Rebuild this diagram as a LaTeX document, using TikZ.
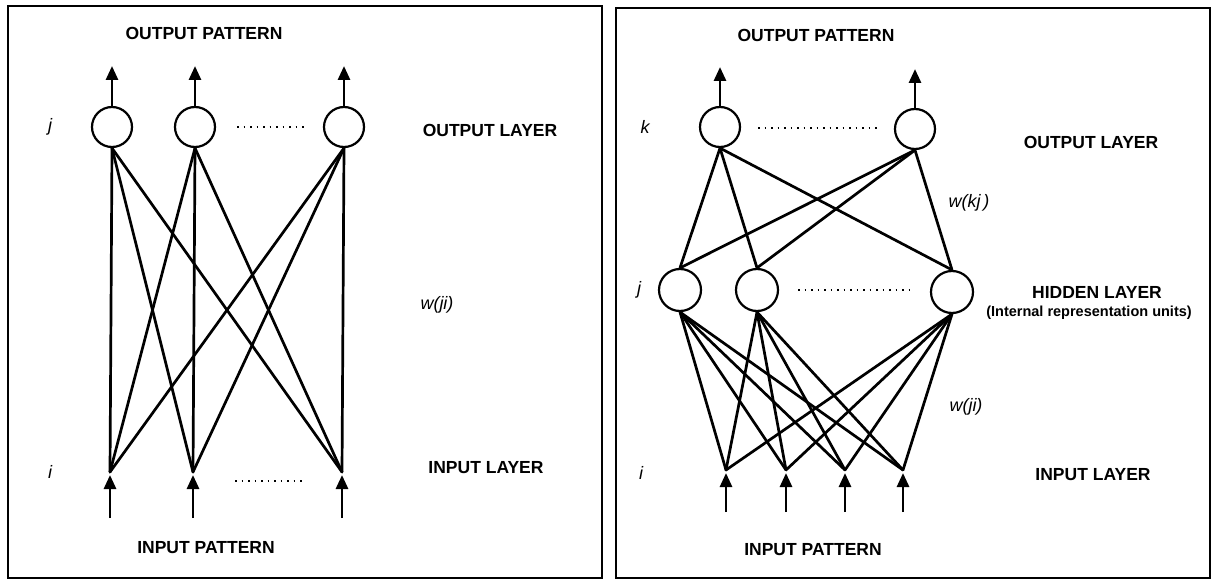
\documentclass[tikz,border=0pt]{standalone}
\usepackage{fontspec}
\setmainfont{Liberation Sans}
\usetikzlibrary{arrows.meta}
\begin{document}
\begin{tikzpicture}[x=1pt,y=-1pt,
  unit/.style={circle, draw, line width=2.2pt, minimum size=40pt, inner sep=0pt},
  hunit/.style={unit, minimum size=42pt},
  link/.style={line width=2.7pt, line cap=round},
  feed/.style={line width=2.8pt, -{Triangle[length=14pt,width=12pt]}},
  infeed/.style={feed, shorten >=3pt},
  lbl/.style={font=\fontsize{17.5}{20}\selectfont\bfseries},
  small/.style={font=\fontsize{14.5}{16}\selectfont\bfseries},
  idx/.style={font=\fontsize{18}{20}\selectfont\itshape},
  gap/.style={line width=1.5pt, dash pattern=on 1.5pt off 5pt},
  frame/.style={line width=2pt}
]
\useasboundingbox (0,0) rectangle (1216,583);

% panel frames
\draw[frame] (8,6) rectangle (602,578);
\draw[frame] (616,8) rectangle (1210,578);

% ---------- two-layer network ----------
\node[lbl] (ptopA) at (204,33) {OUTPUT PATTERN};
\node[unit] (oA1) at (112,127) {};
\node[unit] (oA2) at (195,127) {};
\node[unit] (oA3) at (344,127) {};
\node[idx] (jA) at (50,127) {j};
\node[lbl] (loutA) at (490,130) {OUTPUT LAYER};
\coordinate (dA1) at (237,127);
\coordinate (dA2) at (308,127);
\draw[gap] (dA1) -- (dA2);

\foreach \n/\x in {1/112,2/195,3/344}{
  \coordinate (tA\n) at (\x,66);
  \draw[feed] (oA\n.north) -- (tA\n);
}

\coordinate (iA1) at (110,472);
\coordinate (iA2) at (193,472);
\coordinate (iA3) at (342,472);
\foreach \n/\x in {1/110,2/193,3/342}{
  \coordinate (bA\n) at (\x,518);
  \draw[infeed] (bA\n) -- (iA\n);
}
\foreach \a in {1,2,3}
  \foreach \b in {1,2,3}
    \draw[link] (oA\a.south) -- (iA\b);

\node[idx] (wA) at (437,305) {w(ji)};
\node[idx] (iAl) at (50,472) {i};
\node[lbl] (linA) at (486,468) {INPUT LAYER};
\coordinate (eA1) at (235,481);
\coordinate (eA2) at (304,481);
\draw[gap] (eA1) -- (eA2);
\node[lbl] (pbotA) at (206,548) {INPUT PATTERN};

% ---------- three-layer network ----------
\node[lbl] (ptopB) at (816,35) {OUTPUT PATTERN};
\node[unit] (k1) at (720,127) {};
\node[unit] (k2) at (915,129) {};
\node[idx] (kB) at (645,127) {k};
\node[lbl] (loutB) at (1091,142) {OUTPUT LAYER};
\coordinate (dB1) at (758,128);
\coordinate (dB2) at (877,128);
\draw[gap] (dB1) -- (dB2);
\coordinate (tk1) at (720,67);
\coordinate (tk2) at (915,69);
\draw[feed] (k1.north) -- (tk1);
\draw[feed] (k2.north) -- (tk2);

\node[hunit] (h1) at (680,290) {};
\node[hunit] (h2) at (757,290) {};
\node[hunit] (h3) at (952,292) {};
\node[idx] (jB) at (639,290) {j};
\coordinate (dB3) at (798,290);
\coordinate (dB4) at (910,290);
\draw[gap] (dB3) -- (dB4);
\node[lbl] (lhid) at (1097,292) {HIDDEN LAYER};
\node[small] (lint) at (1089,313) {(Internal representation units)};

\foreach \a in {1,2}
  \foreach \b in {1,2,3}
    \draw[link] (k\a.south) -- (h\b.north);
\node[idx] (wkj) at (969,203) {w(kj\,)};

\foreach \n/\x in {1/726,2/786,3/845,4/903}{
  \coordinate (p\n) at (\x,470);
  \coordinate (q\n) at (\x,512);
  \draw[infeed] (q\n) -- (p\n);
}
\foreach \a in {1,2,3}
  \foreach \b in {1,2,3,4}
    \draw[link] (h\a.south) -- (p\b);

\node[idx] (wji) at (966,407) {w(ji)};
\node[idx] (iB) at (641,473) {i};
\node[lbl] (linB) at (1093,475) {INPUT LAYER};
\node[lbl] (pbotB) at (813,550) {INPUT PATTERN};
\end{tikzpicture}
\end{document}
